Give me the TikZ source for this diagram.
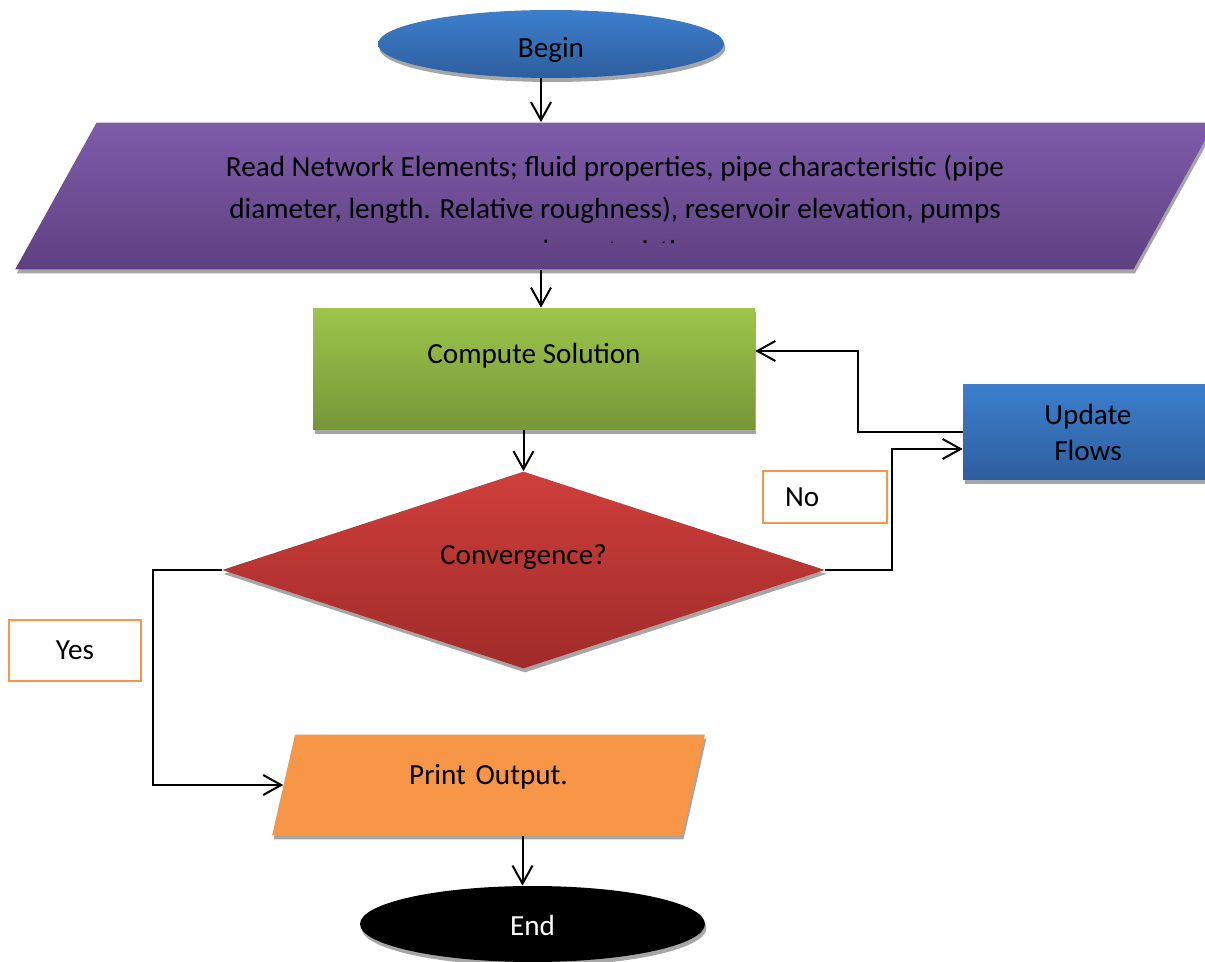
\documentclass[tikz,border=0pt]{standalone}
\usepackage{fontspec}
\setmainfont{Carlito}
\usetikzlibrary{
    shapes.geometric,
    arrows.meta,
    positioning,
    calc,
    shadows
}
\definecolor{startbluetop}{RGB}{61, 127, 205}
\definecolor{startbluebot}{RGB}{46, 94, 158}
\definecolor{readtop}{RGB}{127, 91, 170}
\definecolor{readbot}{RGB}{94, 65, 129}
\definecolor{computetop}{RGB}{157, 197, 75}
\definecolor{computebot}{RGB}{118, 150, 56}
\definecolor{decisiontop}{RGB}{207, 63, 59}
\definecolor{decisionbot}{RGB}{159, 43, 41}
\definecolor{printorange}{RGB}{247, 150, 70}
\definecolor{shadowgray}{RGB}{166, 166, 166}

\begin{document}
\begin{tikzpicture}[
        x=0.02cm, y=-0.02cm,
        font=\fontsize{16.6pt}{20.5pt}\selectfont,
        box/.style={general shadow={fill=shadowgray, shadow xshift=0.03cm, shadow yshift=-0.08cm}, align=center, inner sep=0pt},
        terminal/.style={box, ellipse},
        io/.style={box, trapezium},
        process/.style={box, rectangle},
        decision/.style={box, diamond, aspect=3},
        tag/.style={draw=printorange, line width=0.03cm, fill=white},
        arrow/.style={-{Straight Barb[length=0.36cm, width=0.4cm]}, line width=0.04cm}
    ]
        \path[use as bounding box, clip] (0,0) rectangle (1205,962);

        % Main flow
        \node[terminal, minimum width=6.92cm, minimum height=1.36cm, top color=startbluetop, bottom color=startbluebot, text height=0.66cm] (begin) at (551, 44) {Begin};

        \node[io, text width=20.74cm, text height=1.47cm, text depth=1.47cm, trapezium left angle=61, trapezium right angle=119, top color=readtop, bottom color=readbot] (read) at (615, 196) {};
        \begin{scope}
            \clip (0,0) rectangle (1205,243);
            \node[font=\fontsize{16.6pt}{23.9pt}\selectfont, align=center] (readtext) at (615, 208) {
                Read Network Elements; fluid properties, pipe characteristic (pipe\\
                diameter, length. Relative roughness), reservoir elevation, pumps\\
                characteristics
            };
        \end{scope}

        \node[process, minimum width=8.84cm, minimum height=2.44cm, top color=computetop, bottom color=computebot, text height=0.4cm, text depth=0.62cm] (compute) at (534, 369) {Compute Solution};

        \node[decision, minimum width=12.06cm, minimum height=3.94cm, top color=decisiontop, bottom color=decisionbot, text height=0.4cm, text depth=0.62cm] (conv) at (523.5, 570) {Convergence?};

        \node[process, minimum width=5cm, minimum height=1.92cm, top color=startbluetop, bottom color=startbluebot] (update) at (1088, 432) {Update\\Flows};

        \node[io, text width=7.74cm, text height=1.01cm, text depth=1.01cm, trapezium left angle=77.2, trapezium right angle=102.8, fill=printorange] (print) at (488.5, 785) {Print Output.};

        \node[terminal, minimum width=6.9cm, minimum height=1.52cm, fill=black, text=white, text height=0.46cm] (end) at (532.5, 924) {End};

        % Branch labels
        \node[tag, text width=1.6cm, inner xsep=0.44cm, minimum height=1.04cm, align=left] (no) at (825, 497) {No};
        \node[tag, minimum width=2.64cm, minimum height=1.22cm] (yes) at (75, 650.5) {Yes};

        % Arrows - main flow
        \draw[arrow] ([xshift=-0.2cm]begin.south) -- ([xshift=-0.2cm]begin.south |- read.north);
        \draw[arrow] ([xshift=0.14cm]compute.north |- read.south) -- ([xshift=0.14cm]compute.north);
        \draw[arrow] (compute.south -| conv.north) -- (conv.north);
        \draw[arrow] ([xshift=-0.2cm]end.north |- print.south) -- ([xshift=-0.2cm]end.north);

        % Arrows - loop
        \draw[arrow] (conv.east) -- ++(67, 0) |- ([yshift=-0.34cm]update.west);
        \draw[arrow] (update.west) -- ++(-105, 0) |- ([yshift=0.36cm]compute.east);
        \draw[arrow] (conv.west) -- ++(-69, 0) |- (print.west);
    \end{tikzpicture}
\end{document}
